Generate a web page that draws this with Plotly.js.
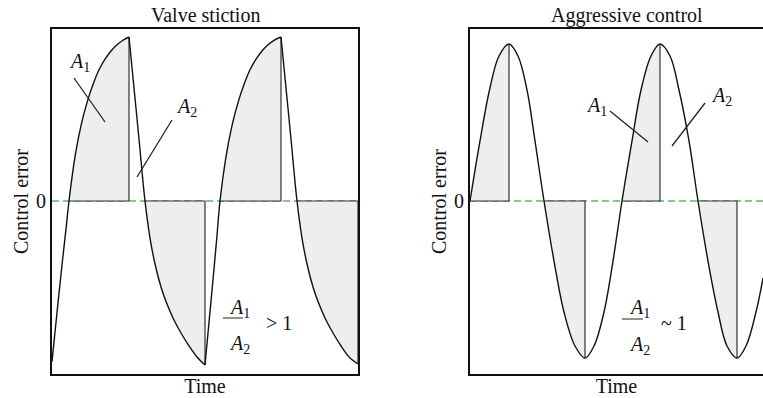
<!DOCTYPE html>
<html>
<head>
<meta charset="utf-8">
<script src="https://cdn.plot.ly/plotly-3.0.1.min.js"></script>
<style>
html,body{margin:0;padding:0;background:#fff;}
#chart{width:763px;height:398px;}
</style>
</head>
<body>
<div id="chart"></div>
<script>
// ---- data ----
const panelTitles = ["Valve stiction", "Aggressive control"];
const axisTitleX = "Time";
const axisTitleY = "Control error";
const zeroTickLabel = ["0"];

// Valve stiction: control error vs time
const stictionTime = [0, 5, 10, 14, 17, 23, 29, 35, 41, 47, 53, 59, 65, 71, 77,
  82, 87, 93, 98, 103, 109, 115, 122, 129, 137, 145, 153,
  157, 161, 165, 168, 174, 180, 186, 192, 198, 204, 210, 216, 222, 229,
  234, 239, 245, 250, 255, 261, 267, 274, 281, 289, 297, 306];
const stictionError = [-0.98, -0.68, -0.39, -0.17, 0, 0.27, 0.46, 0.60, 0.71, 0.80, 0.865, 0.915, 0.953, 0.980, 1.0,
  0.689, 0.378, 0, -0.226, -0.384, -0.524, -0.628, -0.726, -0.805, -0.884, -0.951, -1.0,
  -0.74, -0.48, -0.21, 0, 0.27, 0.46, 0.60, 0.71, 0.80, 0.865, 0.915, 0.953, 0.980, 1.0,
  0.689, 0.378, 0, -0.226, -0.384, -0.524, -0.628, -0.726, -0.805, -0.884, -0.951, -0.994];

// Aggressive control: control error vs time
const aggressiveTime = [0, 10, 19.5, 29, 39, 48, 57, 65, 74,
  84, 94, 105, 115, 124, 134, 143, 152,
  162, 171, 181, 190, 200, 209, 219, 228,
  238, 248, 257, 267, 276, 286, 293];
const aggressiveError = [0, 0.366, 0.677, 0.884, 0.957, 0.884, 0.677, 0.366, 0,
  -0.366, -0.677, -0.884, -0.957, -0.884, -0.677, -0.366, 0,
  0.366, 0.677, 0.884, 0.957, 0.884, 0.677, 0.366, 0,
  -0.366, -0.677, -0.884, -0.957, -0.884, -0.677, -0.47];

const ratioLabels = ["> 1", "~ 1"];

// ---- styling ----
const FONT = "Liberation Serif, Times New Roman, serif";
const CURVE = "#111";
const FILL = "#eeeeee";
const EDGE = "#333";
const ZERO = "#5cb85c";

function extremaSegments(t, e) {
  const idx = [0];
  for (let i = 1; i < e.length - 1; i++) {
    const d1 = e[i] - e[i - 1], d2 = e[i + 1] - e[i];
    if (d1 * d2 < 0) idx.push(i);
  }
  idx.push(e.length - 1);
  const segs = [];
  for (let k = 0; k < idx.length - 1; k++) segs.push([idx[k], idx[k + 1]]);
  return segs;
}

function buildPanel(t, e, xa, ya, sharp, xMax) {
  const traces = [];
  traces.push({x: [0, xMax], y: [0, 0], xaxis: xa, yaxis: ya, mode: "lines",
    line: {color: ZERO, width: 1.5, dash: "7px,4px"}, hoverinfo: "skip", showlegend: false});
  const segs = extremaSegments(t, e);
  segs.forEach(([a, b]) => {
    let z = -1;
    for (let i = a; i <= b; i++) if (e[i] === 0) { z = i; break; }
    if (z < 0 || z === b) return;
    traces.push({x: t.slice(z, b + 1), y: e.slice(z, b + 1), xaxis: xa, yaxis: ya,
      mode: "lines", fill: "tozeroy", fillcolor: FILL,
      line: {width: 0, shape: "spline", smoothing: 1}, hoverinfo: "skip", showlegend: false});
    traces.push({x: [t[z], t[b], t[b]], y: [0, 0, e[b]], xaxis: xa, yaxis: ya,
      mode: "lines", line: {color: EDGE, width: 1.2}, hoverinfo: "skip", showlegend: false});
  });
  if (sharp) {
    segs.forEach(([a, b]) => {
      traces.push({x: t.slice(a, b + 1), y: e.slice(a, b + 1), xaxis: xa, yaxis: ya,
        mode: "lines", line: {color: CURVE, width: 1.4, shape: "spline", smoothing: 1},
        hoverinfo: "skip", showlegend: false});
    });
  } else {
    traces.push({x: t, y: e, xaxis: xa, yaxis: ya, mode: "lines",
      line: {color: CURVE, width: 1.4, shape: "spline", smoothing: 1},
      hoverinfo: "skip", showlegend: false});
  }
  return traces;
}

const data = [].concat(
  buildPanel(stictionTime, stictionError, "x", "y", true, 306),
  buildPanel(aggressiveTime, aggressiveError, "x2", "y2", false, 293)
);

// pixel helpers for placing text (style only)
const L = (px, py) => ({x: px - 52, y: (201 - py) / 164});
const R = (px, py) => ({x: px - 470, y: (201 - py) / 164});

function label(pos, text, xr, yr, size, anchor) {
  return {x: pos.x, y: pos.y, xref: xr, yref: yr, text: text, showarrow: false,
    xanchor: anchor || "left", yanchor: "middle",
    font: {family: FONT, size: size || 19, color: "#111"}};
}
function seg(p1, p2, xr, yr, w) {
  return {type: "line", xref: xr, yref: yr, x0: p1.x, y0: p1.y, x1: p2.x, y1: p2.y,
    line: {color: "#222", width: w || 1.3}};
}

const A1 = "<i>A</i><sub>1</sub>", A2 = "<i>A</i><sub>2</sub>";
const titleY = (374 - 15) / 345;

const annotations = [
  {text: panelTitles[0], x: L(205, 0).x, xref: "x", y: titleY, yref: "paper", showarrow: false,
    xanchor: "center", yanchor: "middle", font: {family: FONT, size: 20, color: "#111"}},
  {text: panelTitles[1], x: R(627, 0).x, xref: "x2", y: titleY, yref: "paper", showarrow: false,
    xanchor: "center", yanchor: "middle", font: {family: FONT, size: 20, color: "#111"}},
  label(L(67, 62), A1, "x", "y", 20),
  label(L(174, 107), A2, "x", "y", 20),
  label(L(227, 308), A1, "x", "y", 20),
  label(L(227, 344), A2, "x", "y", 20),
  label(L(264, 323), ratioLabels[0], "x", "y", 20),
  label(R(584, 106), A1, "x2", "y2", 20),
  label(R(709, 96), A2, "x2", "y2", 20),
  label(R(627, 308), A1, "x2", "y2", 20),
  label(R(627, 345), A2, "x2", "y2", 20),
  label(R(659, 323), ratioLabels[1], "x2", "y2", 20)
];

const shapes = [
  seg(L(74, 78), L(105, 122), "x", "y"),
  seg(L(172, 120), L(137, 177), "x", "y"),
  seg(L(223, 318), L(243, 318), "x", "y", 1),
  seg(R(610, 111), R(648, 142), "x2", "y2"),
  seg(R(705, 103), R(672, 146), "x2", "y2"),
  seg(R(622, 319), R(643, 319), "x2", "y2", 1)
];

const yRange = [(201 - 374) / 164, (201 - 29) / 164];
const baseX = {showgrid: false, zeroline: false, showticklabels: false, ticks: "",
  showline: true, linecolor: "#111", linewidth: 2, fixedrange: true,
  title: {text: axisTitleX, font: {family: FONT, size: 20, color: "#111"}, standoff: 4}};
const baseY = {showgrid: false, zeroline: false, ticks: "", range: yRange,
  tickvals: [0], ticktext: zeroTickLabel, tickfont: {family: FONT, size: 20, color: "#111"},
  showline: true, linecolor: "#111", linewidth: 2, fixedrange: true, ticklabelstandoff: 0,
  title: {text: axisTitleY, font: {family: FONT, size: 20, color: "#111"}, standoff: 2}};

const layout = {
  width: 763, height: 398,
  margin: {l: 52, r: 0, t: 29, b: 24},
  paper_bgcolor: "#fff", plot_bgcolor: "#fff",
  showlegend: false,
  xaxis: Object.assign({}, baseX, {domain: [0, 306 / 711], range: [0, 306], mirror: true, anchor: "y"}),
  yaxis: Object.assign({}, baseY, {mirror: true, anchor: "x"}),
  xaxis2: Object.assign({}, baseX, {domain: [418 / 711, 1], range: [0, 293], mirror: true, anchor: "y2"}),
  yaxis2: Object.assign({}, baseY, {mirror: false, anchor: "x2"}),
  annotations: annotations,
  shapes: shapes
};

Plotly.newPlot("chart", data, layout, {staticPlot: true, displayModeBar: false});
</script>
</body>
</html>
